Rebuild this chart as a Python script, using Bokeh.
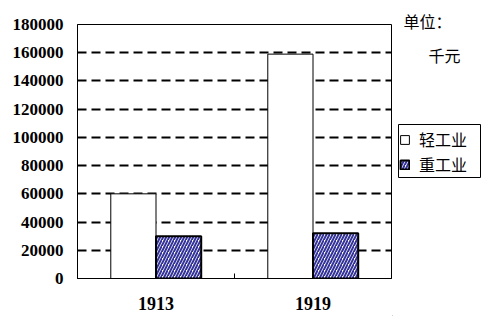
from bokeh.plotting import figure
from bokeh.layouts import row
from bokeh.models import (ColumnDataSource, FixedTicker, Legend, LegendItem, Label,
                          Range1d, NumeralTickFormatter)
from bokeh.embed import file_html
from bokeh.resources import INLINE

categories = ["1913", "1919"]
light = [60000, 159000]
heavy = [30000, 32000]
y_ticks = [0, 20000, 40000, 60000, 80000, 100000, 120000, 140000, 160000, 180000]
series_names = ["轻工业", "重工业"]
unit_label = "单位："
unit_value = "千元"

centers = [i + 0.5 for i in range(len(categories))]
bw = 0.288
src = ColumnDataSource(dict(
    xl=[c - bw / 2 for c in centers], xh=[c + bw / 2 for c in centers],
    light=light, heavy=heavy))

light_style = dict(fill_color="white", line_color="black", line_width=1)
heavy_style = dict(fill_color="white", line_color="black", line_width=2, hatch_pattern="/",
                   hatch_color="#333399", hatch_weight=2, hatch_scale=6)

p = figure(width=392, height=316, output_backend="svg", toolbar_location=None,
           x_range=Range1d(0, len(categories)), y_range=Range1d(0, 180000),
           min_border_left=77, min_border_right=1, min_border_top=24, min_border_bottom=38)
p.background_fill_color = "white"
p.border_fill_color = "white"
p.outline_line_color = "black"
p.outline_line_width = 1

r1 = p.vbar(x="xl", top="light", width=bw, source=src, **light_style)
r2 = p.vbar(x="xh", top="heavy", width=bw, source=src, **heavy_style)

p.xaxis.ticker = FixedTicker(ticks=centers, minor_ticks=list(range(len(categories) + 1)))
p.xaxis.major_label_overrides = {c: lab for c, lab in zip(centers, categories)}
p.xaxis.major_tick_out = 0
p.xaxis.major_tick_in = 0
p.xaxis.minor_tick_in = 5
p.xaxis.minor_tick_out = 0
p.xaxis.minor_tick_line_color = "black"
p.xaxis.axis_line_color = "black"
p.xaxis.major_label_standoff = 18
p.xaxis.major_label_text_font = "Liberation Serif"
p.xaxis.major_label_text_font_style = "bold"
p.xaxis.major_label_text_font_size = "18px"
p.xaxis.major_label_text_color = "black"

p.yaxis.ticker = FixedTicker(ticks=y_ticks)
p.yaxis.formatter = NumeralTickFormatter(format="0")
p.yaxis.major_tick_out = 0
p.yaxis.major_tick_in = 0
p.yaxis.minor_tick_line_color = None
p.yaxis.axis_line_color = "black"
p.yaxis.major_label_standoff = 14
p.yaxis.major_label_text_font = "Liberation Serif"
p.yaxis.major_label_text_font_style = "bold"
p.yaxis.major_label_text_font_size = "17px"
p.yaxis.major_label_text_color = "black"

p.xgrid.grid_line_color = None
p.ygrid.ticker = FixedTicker(ticks=y_ticks[1:-1])
p.ygrid.grid_line_color = "black"
p.ygrid.grid_line_width = 2
p.ygrid.grid_line_dash = "9 5"

# right-hand panel: unit note and legend (pixel-like coordinates, y up)
p2 = figure(width=98, height=316, output_backend="svg", toolbar_location=None,
            x_range=Range1d(0, 98), y_range=Range1d(0, 316),
            x_axis_location=None, y_axis_location=None,
            min_border_left=0, min_border_right=0, min_border_top=0, min_border_bottom=0)
try:
    p2.frame_align = False
except Exception:
    pass
p2.outline_line_color = None
p2.grid.visible = False
p2.background_fill_color = "white"
p2.border_fill_color = "white"

# legend frame box
p2.quad(left=6, right=88, bottom=139, top=192, fill_color=None, line_color="black", line_width=1)

# legend proxies, kept outside the visible range
proxy = ColumnDataSource(dict(x=[-1000], top=[-1000]))
d1 = p2.vbar(x="x", top="top", width=1, source=proxy, **light_style)
d2 = p2.vbar(x="x", top="top", width=1, source=proxy, **heavy_style)

legend = Legend(items=[LegendItem(label=series_names[0], renderers=[d1]),
                       LegendItem(label=series_names[1], renderers=[d2])],
                location=(7, 140))
legend.label_text_font = "Noto Sans CJK SC"
legend.label_text_font_size = "16px"
legend.label_text_color = "black"
legend.border_line_color = None
legend.background_fill_color = None
legend.padding = 3
legend.spacing = 1
legend.margin = 0
legend.glyph_width = 11
legend.glyph_height = 11
legend.label_standoff = 9
legend.label_height = 20
legend.label_width = 0
p2.add_layout(legend, "center")

p2.add_layout(Label(x=11, y=296, text=unit_label, text_baseline="alphabetic",
                    text_font="Noto Sans CJK SC", text_font_size="16px", text_color="black"))
p2.add_layout(Label(x=36, y=262, text=unit_value, text_baseline="alphabetic",
                    text_font="Noto Sans CJK SC", text_font_size="16px", text_color="black"))

layout = row(p, p2, spacing=0)
open("out.html", "w").write(file_html(layout, INLINE))
